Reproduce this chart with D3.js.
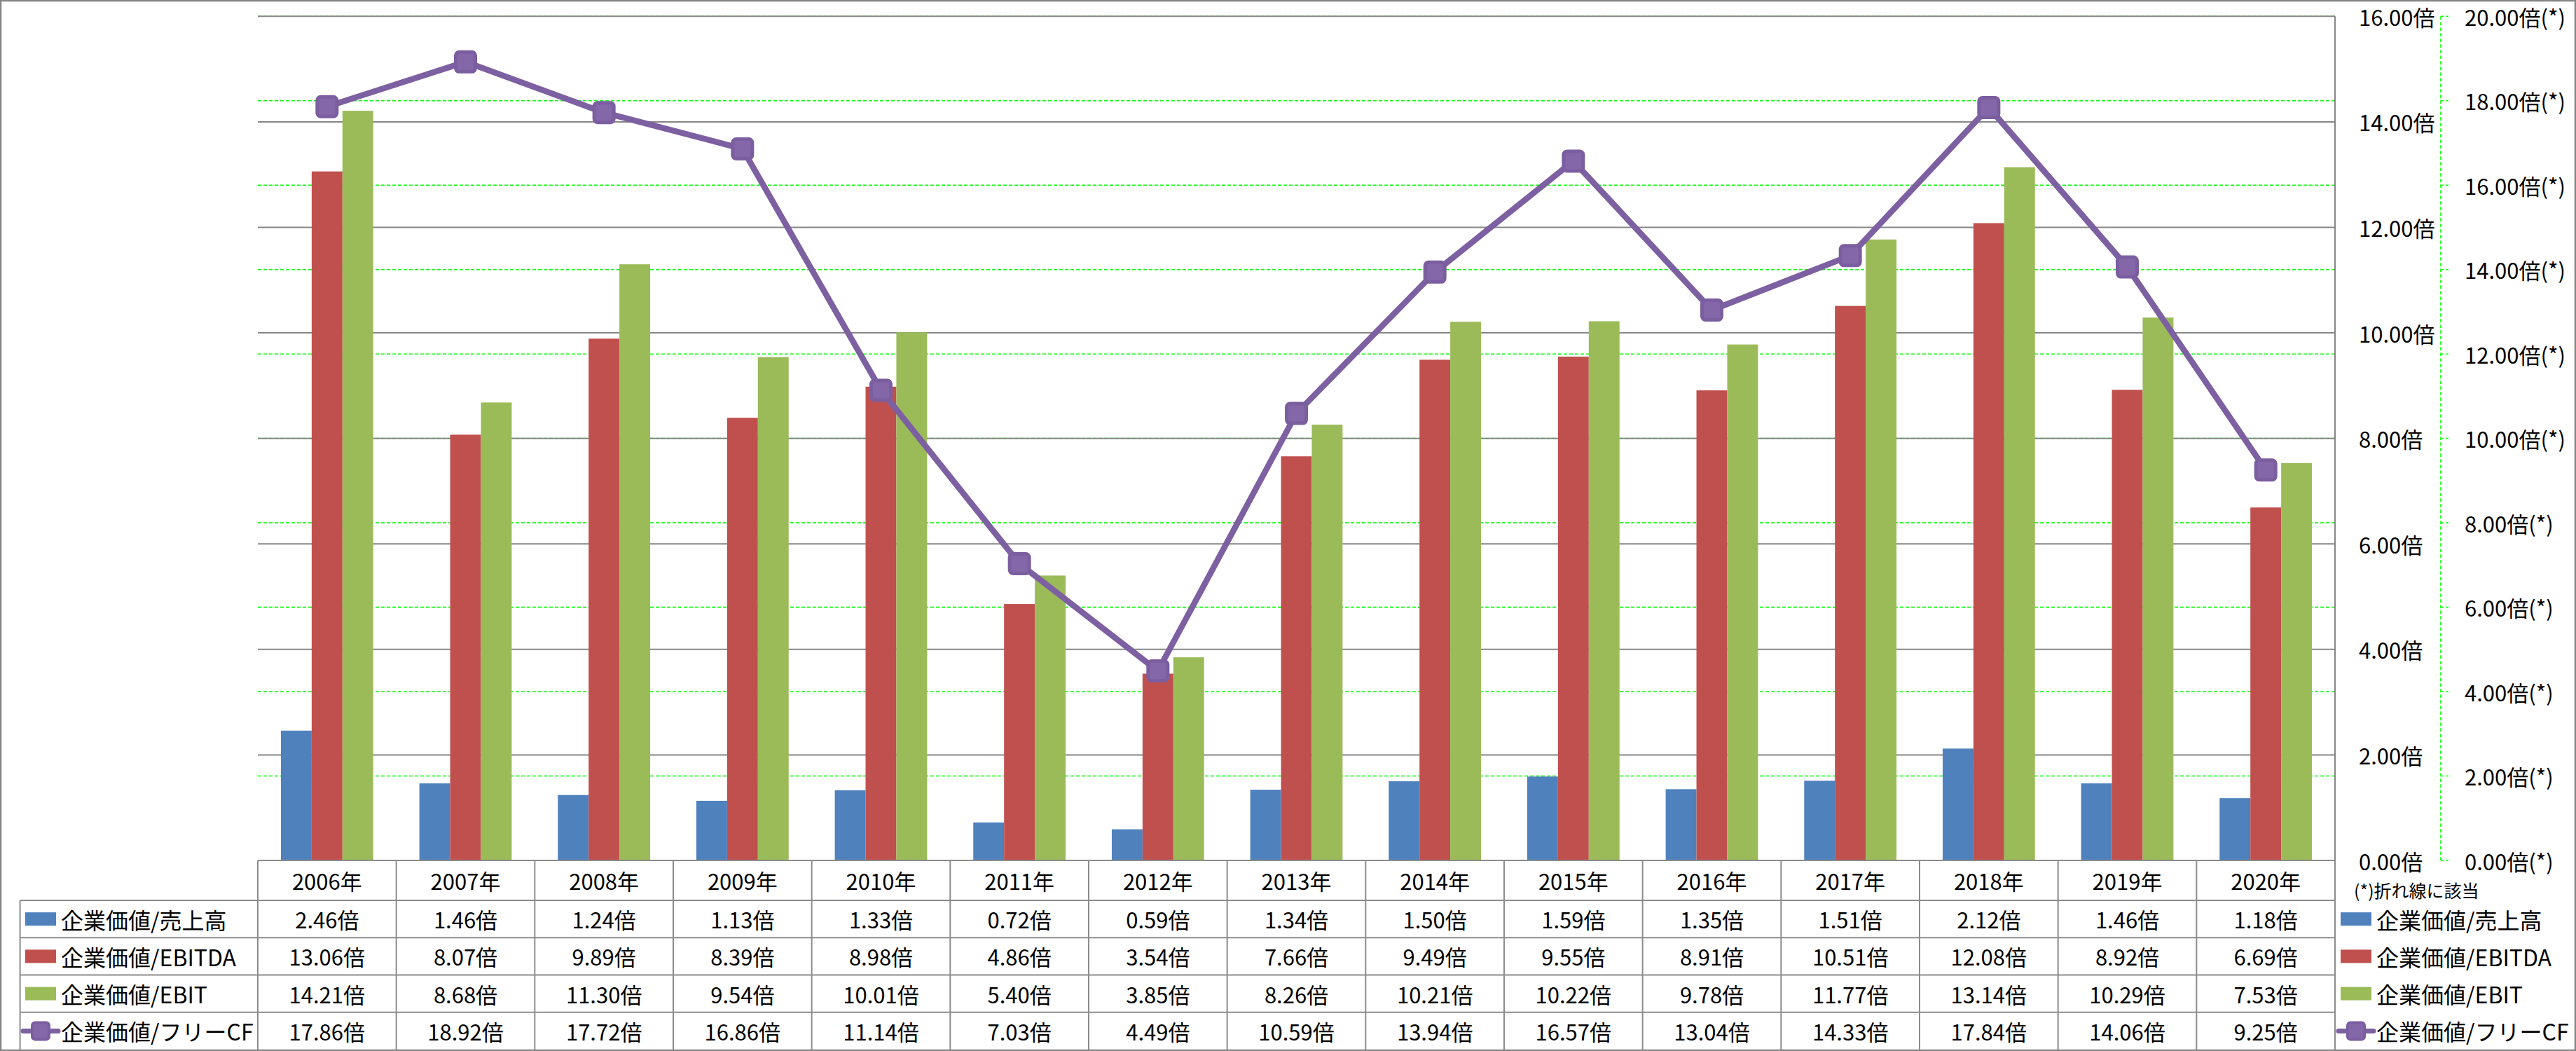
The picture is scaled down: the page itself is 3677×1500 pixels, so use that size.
<!DOCTYPE html>
<html><head><meta charset="utf-8">
<script src="https://cdn.jsdelivr.net/npm/d3@7"></script>
<style>html,body{margin:0;padding:0;background:#fff}svg{display:block}</style>
</head><body>
<script>
const years = ["2006年","2007年","2008年","2009年","2010年","2011年","2012年","2013年","2014年","2015年","2016年","2017年","2018年","2019年","2020年"];
const seriesNames = ["企業価値/売上高","企業価値/EBITDA","企業価値/EBIT","企業価値/フリーCF"];
const sales  = [2.46,1.46,1.24,1.13,1.33,0.72,0.59,1.34,1.50,1.59,1.35,1.51,2.12,1.46,1.18];
const ebitda = [13.06,8.07,9.89,8.39,8.98,4.86,3.54,7.66,9.49,9.55,8.91,10.51,12.08,8.92,6.69];
const ebit   = [14.21,8.68,11.30,9.54,10.01,5.40,3.85,8.26,10.21,10.22,9.78,11.77,13.14,10.29,7.53];
const fcf    = [17.86,18.92,17.72,16.86,11.14,7.03,4.49,10.59,13.94,16.57,13.04,14.33,17.84,14.06,9.25];
const leftTicks = [0,2,4,6,8,10,12,14,16];
const rightTicks = [0,2,4,6,8,10,12,14,16,18,20];
const note = "(*)折れ線に該当";

const colors = ["#4F81BD","#C0504D","#9BBB59","#8064A2"];
const W = 3677, H = 1500;
const FONT = "'Noto Sans CJK JP','Noto Sans',sans-serif";
const plot = {l:368, r:3333, t:23.3, b:1228};
const tableRows = [1228, 1285, 1338.25, 1391.5, 1444.75, 1498];
const tableLeft = 28.6;

const svg = d3.select("body").append("svg").attr("width",W).attr("height",H)
  .style("font-family",FONT);
svg.append("rect").attr("width",W).attr("height",H).attr("fill","#fff");

const x = d3.scaleBand().domain(years).range([plot.l, plot.r]).paddingInner(0).paddingOuter(0);
const xi = d3.scaleBand().domain([0,1,2]).range([0, x.bandwidth()]).paddingInner(0).paddingOuter(0.75);
const yL = d3.scaleLinear().domain([0,16]).range([plot.b, plot.t]);
const yR = d3.scaleLinear().domain([0,20]).range([plot.b, plot.t]);
const fmt = d3.format(".2f");

// secondary gridlines (green dashed)
svg.append("g").selectAll("line").data(rightTicks.filter(d=>d>0)).join("line")
  .attr("x1",plot.l).attr("x2",plot.r).attr("y1",d=>yR(d)).attr("y2",d=>yR(d))
  .attr("stroke","#00FF00").attr("stroke-width",1.6).attr("stroke-dasharray","5,3");
// primary gridlines (gray)
svg.append("g").selectAll("line").data(leftTicks.filter(d=>d>0)).join("line")
  .attr("x1",plot.l).attr("x2",plot.r).attr("y1",d=>yL(d)).attr("y2",d=>yL(d))
  .attr("stroke","#868686").attr("stroke-width",2);

// bars
const barData = [sales, ebitda, ebit];
barData.forEach((arr, si) => {
  svg.append("g").selectAll("rect").data(arr).join("rect")
    .attr("x",(d,i)=>x(years[i]) + xi(si))
    .attr("width",xi.bandwidth())
    .attr("y",d=>yL(d))
    .attr("height",d=>plot.b - yL(d))
    .attr("fill",colors[si]);
});

// primary axis line (right side of plot)
svg.append("line").attr("x1",plot.r).attr("x2",plot.r).attr("y1",plot.t).attr("y2",tableRows[5])
  .attr("stroke","#868686").attr("stroke-width",2);

// primary axis labels
svg.append("g").selectAll("text").data(leftTicks).join("text")
  .attr("x",3367).attr("y",d=>yL(d)).attr("dominant-baseline","central")
  .attr("font-size",31).attr("fill","#000").text(d=>fmt(d)+"倍");

// secondary axis
const axX = 3484;
svg.append("line").attr("x1",axX).attr("x2",axX).attr("y1",plot.t).attr("y2",plot.b)
  .attr("stroke","#00FF00").attr("stroke-width",1.6).attr("stroke-dasharray","5,3");
svg.append("g").selectAll("line").data(rightTicks).join("line")
  .attr("x1",axX).attr("x2",axX+11).attr("y1",d=>yR(d)).attr("y2",d=>yR(d))
  .attr("stroke","#00FF00").attr("stroke-width",1.6).attr("stroke-dasharray","4,3");
svg.append("g").selectAll("text").data(rightTicks).join("text")
  .attr("x",3518).attr("y",d=>yR(d)).attr("dominant-baseline","central")
  .attr("font-size",31).attr("fill","#000").text(d=>fmt(d)+"倍(*)");

// line series
const line = d3.line().x((d,i)=>x(years[i]) + x.bandwidth()/2).y(d=>yR(d));
svg.append("path").datum(fcf).attr("d",line).attr("fill","none")
  .attr("stroke","#7D60A1").attr("stroke-width",8.5).attr("stroke-linejoin","round");
const ms = 28;
svg.append("g").selectAll("rect").data(fcf).join("rect")
  .attr("x",(d,i)=>x(years[i]) + x.bandwidth()/2 - ms/2)
  .attr("y",d=>yR(d)-ms/2).attr("width",ms).attr("height",ms).attr("rx",5)
  .attr("fill","#8467A8").attr("stroke","#7B5EA0").attr("stroke-width",5);

// data table
const tg = svg.append("g");
const tStroke = "#8C8C8C";
tg.append("line").attr("x1",plot.l).attr("x2",plot.r).attr("y1",tableRows[0]).attr("y2",tableRows[0])
  .attr("stroke",tStroke).attr("stroke-width",2);
tg.selectAll("line.h").data(tableRows.slice(1,5)).join("line").attr("class","h")
  .attr("x1",tableLeft).attr("x2",plot.r).attr("y1",d=>d).attr("y2",d=>d)
  .attr("stroke",tStroke).attr("stroke-width",2);
const colEdges = years.map(y=>x(y)).concat([plot.r]);
tg.selectAll("line.v").data(colEdges).join("line").attr("class","v")
  .attr("x1",d=>d).attr("x2",d=>d).attr("y1",tableRows[0]).attr("y2",tableRows[5])
  .attr("stroke",tStroke).attr("stroke-width",2);
tg.append("line").attr("x1",tableLeft).attr("x2",tableLeft).attr("y1",tableRows[1]).attr("y2",tableRows[5])
  .attr("stroke",tStroke).attr("stroke-width",2);

// header years
tg.selectAll("text.yr").data(years).join("text").attr("class","yr")
  .attr("x",d=>x(d)+x.bandwidth()/2).attr("y",(tableRows[0]+tableRows[1])/2)
  .attr("text-anchor","middle").attr("dominant-baseline","central")
  .attr("font-size",31).attr("fill","#000").text(d=>d);

const allSeries = [sales, ebitda, ebit, fcf];
allSeries.forEach((arr, si) => {
  const cy = (tableRows[si+1]+tableRows[si+2])/2;
  tg.append("g").selectAll("text").data(arr).join("text")
    .attr("x",(d,i)=>x(years[i])+x.bandwidth()/2).attr("y",cy)
    .attr("text-anchor","middle").attr("dominant-baseline","central")
    .attr("font-size",31).attr("fill","#000").text(d=>fmt(d)+"倍");
});

// legend keys helper
function legendKey(g, si, cx, cy) {
  if (si < 3) {
    g.append("rect").attr("x",cx-22).attr("y",cy-9.5).attr("width",44).attr("height",19).attr("fill",colors[si]);
  } else {
    g.append("line").attr("x1",cx-25).attr("x2",cx+25).attr("y1",cy).attr("y2",cy)
      .attr("stroke","#7D60A1").attr("stroke-width",7).attr("stroke-linecap","round");
    g.append("rect").attr("x",cx-12).attr("y",cy-12).attr("width",24).attr("height",24).attr("rx",4)
      .attr("fill","#8467A8").attr("stroke","#7B5EA0").attr("stroke-width",4);
  }
}
// table row labels
seriesNames.forEach((name, si) => {
  const cy = (tableRows[si+1]+tableRows[si+2])/2;
  legendKey(tg, si, 58, cy);
  tg.append("text").attr("x",87).attr("y",cy).attr("dominant-baseline","central")
    .attr("font-size",32).attr("fill","#000").text(name);
});

// right legend
const lg = svg.append("g");
lg.append("text").attr("x",3360).attr("y",1270).attr("dominant-baseline","central")
  .attr("font-size",25).attr("fill","#000").text(note);
seriesNames.forEach((name, si) => {
  const cy = (tableRows[si+1]+tableRows[si+2])/2;
  legendKey(lg, si, 3363, cy);
  lg.append("text").attr("x",3392).attr("y",cy).attr("dominant-baseline","central")
    .attr("font-size",32).attr("fill","#000").text(name);
});

// outer border
svg.append("rect").attr("x",1).attr("y",1).attr("width",W-2).attr("height",H-2)
  .attr("fill","none").attr("stroke","#868686").attr("stroke-width",2.5);
</script>
</body></html>
